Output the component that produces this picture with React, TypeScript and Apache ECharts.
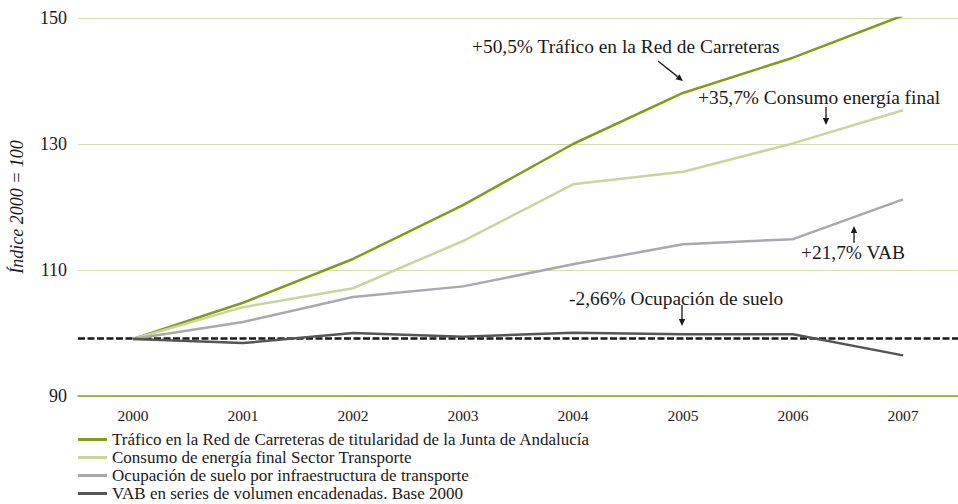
import React, { useEffect, useRef } from "react";
import * as echarts from "echarts";

const years = ["2000", "2001", "2002", "2003", "2004", "2005", "2006", "2007"];
const trafico = [99.05, 104.8, 111.75, 120.3, 130.0, 138.1, 143.7, 150.4];
const consumo = [99.05, 104.1, 107.1, 114.6, 123.6, 125.6, 130.1, 135.35];
const ocupacion = [99.05, 101.75, 105.7, 107.4, 110.9, 114.1, 114.9, 121.2];
const vab = [99.05, 98.4, 100.0, 99.4, 100.05, 99.8, 99.8, 96.45];
const baseline = 99.1;

const seriesNames = [
  "Tráfico en la Red de Carreteras de titularidad de la Junta de Andalucía",
  "Consumo de energía final Sector Transporte",
  "Ocupación de suelo por infraestructura de transporte",
  "VAB en series de volumen encadenadas. Base 2000",
];
const seriesColors = ["#86991c", "#c9d59d", "#a8a9ad", "#555555"];
const seriesData = [trafico, consumo, ocupacion, vab];

const annotations = [
  { text: "+50,5% Tráfico en la Red de Carreteras", x: 472, y: 46, ax1: 658, ay1: 61, ax2: 683, ay2: 81 },
  { text: "+35,7% Consumo energía final", x: 698, y: 97, ax1: 826, ay1: 107, ax2: 826, ay2: 125 },
  { text: "+21,7% VAB", x: 801, y: 252, ax1: 854, ay1: 243, ax2: 854, ay2: 226 },
  { text: "-2,66% Ocupación de suelo", x: 569, y: 298, ax1: 682, ay1: 305, ax2: 682, ay2: 326 },
];

const FONT = "'Liberation Serif', 'DejaVu Serif', serif";

function arrow(x1: number, y1: number, x2: number, y2: number) {
  const dx = x2 - x1;
  const dy = y2 - y1;
  const len = Math.sqrt(dx * dx + dy * dy);
  const ux = dx / len;
  const uy = dy / len;
  const hl = 7;
  const hw = 3.2;
  const bx = x2 - ux * hl;
  const by = y2 - uy * hl;
  return [
    {
      type: "line",
      shape: { x1, y1, x2: bx, y2: by },
      style: { stroke: "#1a1a1a", lineWidth: 1.3 },
    },
    {
      type: "polygon",
      shape: {
        points: [
          [x2, y2],
          [bx - uy * hw, by + ux * hw],
          [bx + uy * hw, by - ux * hw],
        ],
      },
      style: { fill: "#1a1a1a" },
    },
  ];
}

export default function App() {
  const ref = useRef<HTMLDivElement>(null);
  useEffect(() => {
    if (!ref.current) return;
    const chart = echarts.init(ref.current, undefined, { renderer: "svg" });
    const legendTops = [431, 449, 467, 485];
    const graphic: any[] = [];
    annotations.forEach((a) => {
      graphic.push({
        type: "text",
        x: a.x,
        y: a.y,
        style: {
          text: a.text,
          font: `19.4px ${FONT}`,
          fill: "#1a1a1a",
          textVerticalAlign: "middle",
        },
      });
      graphic.push(...arrow(a.ax1, a.ay1, a.ax2, a.ay2));
    });
    chart.setOption({
      animation: false,
      backgroundColor: "#ffffff",
      grid: { left: 78, right: -5, top: 18, bottom: 108, containLabel: false },
      legend: seriesNames.map((n, i) => ({
        data: [n],
        left: 78,
        top: legendTops[i],
        icon: "rect",
        itemWidth: 29,
        itemHeight: 3,
        itemGap: 0,
        padding: 0,
        textStyle: {
          fontFamily: FONT,
          fontSize: 17,
          lineHeight: 17,
          color: "#1a1a1a",
          padding: [0, 0, 0, 0],
        },
        selectedMode: false,
      })),
      xAxis: {
        type: "category",
        data: years,
        boundaryGap: true,
        axisLine: { show: true, lineStyle: { color: "#8a9f2a", width: 1.5 } },
        axisTick: { show: false },
        axisLabel: { fontFamily: FONT, fontSize: 15.5, color: "#1a1a1a", margin: 11 },
      },
      yAxis: {
        type: "value",
        min: 90,
        max: 150,
        interval: 20,
        name: "Índice 2000 = 100",
        nameLocation: "middle",
        nameGap: 52,
        nameTextStyle: { fontFamily: FONT, fontSize: 18, fontStyle: "italic", color: "#1a1a1a" },
        axisLine: { show: false },
        axisTick: { show: false },
        axisLabel: { fontFamily: FONT, fontSize: 18, color: "#1a1a1a", margin: 11 },
        splitLine: { show: true, lineStyle: { color: "#d6ddb0", width: 1 } },
      },
      series: seriesNames.map((n, i) => ({
        name: n,
        type: "line",
        data: seriesData[i],
        symbol: "none",
        showSymbol: false,
        color: seriesColors[i],
        lineStyle: { color: seriesColors[i], width: 2.5 },
        z: 3 + i,
        markLine:
          i === 3
            ? {
                silent: true,
                symbol: ["none", "none"],
                label: { show: false },
                lineStyle: { color: "#1a1a1a", type: [7, 2.5], width: 2.5 },
                data: [{ yAxis: baseline }],
              }
            : undefined,
      })),
      graphic,
    });
    return () => chart.dispose();
  }, []);
  return (
    <div
      ref={ref}
      style={{ position: "absolute", left: 0, top: 0, width: 958, height: 504 }}
    />
  );
}
